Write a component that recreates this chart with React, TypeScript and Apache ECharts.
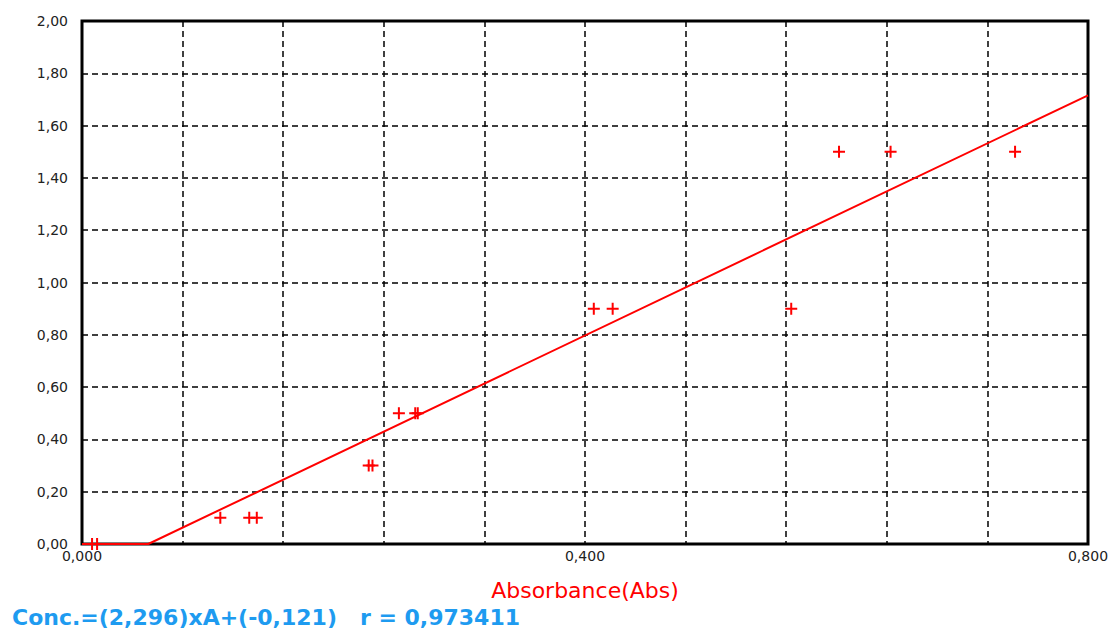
import React, { useEffect, useRef } from "react";
import * as echarts from "echarts";

// Absorbance (x) vs concentration (y) points
const absorbance = [0.008, 0.012, 0.110, 0.133, 0.139, 0.228, 0.231, 0.252, 0.265, 0.267, 0.407, 0.422, 0.564, 0.602, 0.643, 0.742];
const concentration = [0.0, 0.0, 0.1, 0.1, 0.1, 0.3, 0.3, 0.5, 0.5, 0.5, 0.9, 0.9, 0.9, 1.5, 1.5, 1.5];

// Regression: Conc = slope * A + intercept (clipped at 0)
const slope = 2.296;
const intercept = -0.121;
const rValue = "0,973411";

const xLabelValues = [0, 0.4, 0.8];
const xMin = 0;
const xMax = 0.8;
const xStep = 0.08;
const yMin = 0;
const yMax = 2.0;
const yStep = 0.2;

const equationText = "Conc.=(2,296)xA+(-0,121)   r = " + rValue;

export default function App() {
  const ref = useRef<HTMLDivElement>(null);

  useEffect(() => {
    document.body.style.margin = "0";
    const chart = echarts.init(ref.current!, null, { renderer: "svg" });
    const zeroX = -intercept / slope;
    const fitLine = [
      [xMin, 0],
      [zeroX, 0],
      [xMax, slope * xMax + intercept],
    ];
    const scatterData = absorbance.map((a, i) => [a, concentration[i]]);
    const font = "DejaVu Sans";

    chart.setOption({
      animation: false,
      backgroundColor: "#ffffff",
      grid: {
        left: 82,
        right: 24,
        top: 21,
        bottom: 88,
        show: true,
        borderColor: "#000000",
        borderWidth: 3,
        backgroundColor: "transparent",
      },
      xAxis: {
        type: "value",
        min: xMin,
        max: xMax,
        interval: xStep,
        name: "Absorbance(Abs)",
        nameLocation: "middle",
        nameGap: 35,
        nameTextStyle: { color: "#ff0000", fontSize: 22, fontFamily: font },
        axisLine: { show: false },
        axisTick: { show: false },
        axisLabel: {
          color: "#222222",
          fontSize: 14,
          fontFamily: font,
          margin: 5,
          showMinLabel: true,
          showMaxLabel: true,
          formatter: (v: number) => {
            const r = Math.round(v * 1000) / 1000;
            if (xLabelValues.some((t) => Math.abs(r - t) < 1e-6)) {
              return r.toFixed(3).replace(".", ",");
            }
            return "";
          },
        },
        splitLine: {
          show: true,
          lineStyle: { color: "#000000", type: [6, 4], width: 1.5 },
        },
      },
      yAxis: {
        type: "value",
        min: yMin,
        max: yMax,
        interval: yStep,
        axisLine: { show: false },
        axisTick: { show: false },
        axisLabel: {
          color: "#222222",
          fontSize: 14,
          fontFamily: font,
          margin: 14,
          formatter: (v: number) => v.toFixed(2).replace(".", ","),
        },
        splitLine: {
          show: true,
          lineStyle: { color: "#000000", type: [6, 4], width: 1.5 },
        },
      },
      graphic: [
        {
          type: "text",
          x: 12,
          y: 617,
          style: {
            text: equationText,
            fill: "#1E9BF0",
            fontSize: 22,
            fontFamily: font,
            fontWeight: "bold",
            verticalAlign: "middle",
          },
        },
      ],
      series: [
        {
          type: "line",
          data: fitLine,
          showSymbol: false,
          lineStyle: { color: "#ff0000", width: 2 },
          z: 3,
        },
        {
          type: "scatter",
          data: scatterData,
          symbol: "path://M5,0H7V5H12V7H7V12H5V7H0V5H5Z",
          symbolSize: 12,
          itemStyle: { color: "#ff0000", opacity: 1 },
          z: 4,
        },
      ],
    });
    return () => chart.dispose();
  }, []);

  return <div ref={ref} style={{ width: 1112, height: 632 }} />;
}
